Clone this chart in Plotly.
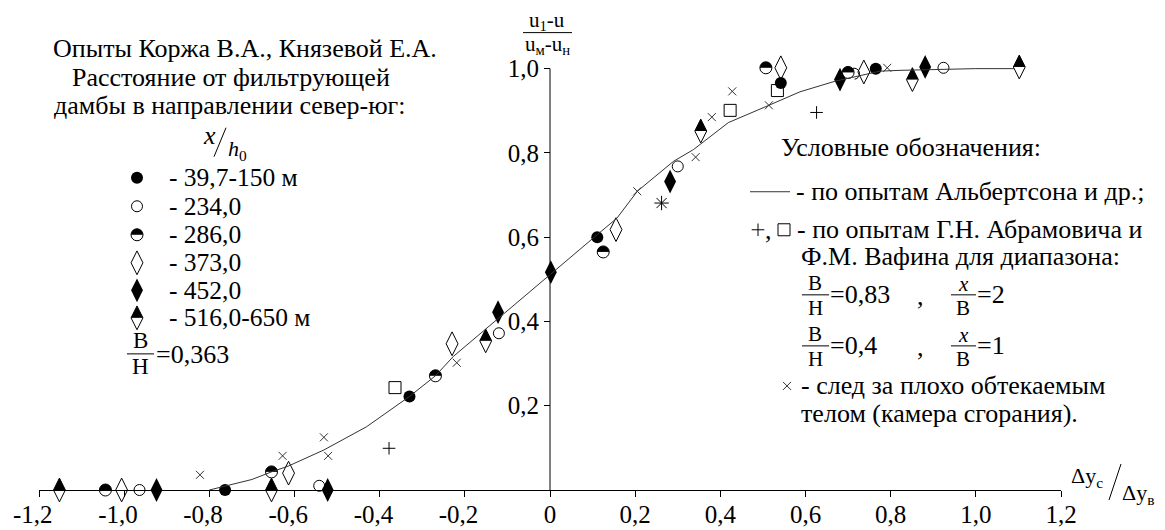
import plotly.graph_objects as go

# ---------------- data ----------------
xtick_vals = [-1.2, -1.0, -0.8, -0.6, -0.4, -0.2, 0.0, 0.2, 0.4, 0.6, 0.8, 1.0, 1.2]
xtick_text = ["-1,2", "-1,0", "-0,8", "-0,6", "-0,4", "-0,2", "0", "0,2", "0,4", "0,6", "0,8", "1,0", "1,2"]
ytick_vals = [0.2, 0.4, 0.6, 0.8, 1.0]
ytick_text = ["0,2", "0,4", "0,6", "0,8", "1,0"]

# Albertson curve
curve_x = [-0.80, -0.76, -0.70, -0.654, -0.614, -0.531, -0.431, -0.33, -0.269, -0.227, -0.117,
           0.0, 0.111, 0.157, 0.205, 0.290, 0.337, 0.419, 0.514, 0.587, 0.669, 0.775, 0.822, 1.0, 1.09]
curve_y = [0.0, 0.010, 0.025, 0.043, 0.057, 0.095, 0.150, 0.222, 0.271, 0.317, 0.412,
           0.511, 0.606, 0.645, 0.709, 0.780, 0.808, 0.872, 0.913, 0.945, 0.970, 0.994, 0.996, 1.0, 1.0]

# Korzh & Knyazeva experiments, x/h0 groups
x_150 = [-0.763, -0.330, 0.111, 0.542, 0.765]
y_150 = [0.0, 0.222, 0.600, 0.966, 1.000]
x_234 = [-0.964, -0.542, -0.120, 0.300, 0.714, 0.924]
y_234 = [0.0, 0.010, 0.372, 0.768, 0.988, 1.002]
x_286 = [-1.044, -0.654, -0.269, 0.125, 0.507, 0.700]
y_286 = [0.0, 0.043, 0.271, 0.565, 1.002, 0.991]
x_373 = [-1.006, -0.614, -0.230, 0.155, 0.542, 0.737]
y_373 = [0.0, 0.040, 0.347, 0.618, 1.002, 0.992]
x_452 = [-0.924, -0.522, -0.122, 0.002, 0.282, 0.681, 0.881]
y_452 = [0.0, 0.0, 0.422, 0.517, 0.732, 0.974, 1.004]
x_516 = [-1.152, -0.654, -0.151, 0.354, 0.851, 1.102]
y_516 = [0.0, 0.0, 0.354, 0.852, 0.974, 1.004]

# Abramovich & Vafin
x_plus = [-0.378, 0.626]
y_plus = [0.099, 0.896]
x_sq = [-0.364, 0.423, 0.534]
y_sq = [0.243, 0.901, 0.948]

# wake behind a bluff body
x_wake = [-0.822, -0.628, -0.531, -0.521, -0.219, 0.205, 0.342, 0.380, 0.428, 0.514, 0.792]
y_wake = [0.036, 0.081, 0.125, 0.081, 0.302, 0.709, 0.790, 0.885, 0.946, 0.913, 1.002]
x_star = [0.262]
y_star = [0.681]

legend_labels = ["- 39,7-150 м", "- 234,0", "- 286,0", "- 373,0", "- 452,0", "- 516,0-650 м"]
legend_kinds = ["circle_filled", "circle_open", "circle_half", "diamond_open", "diamond_filled", "tri_combo"]

# ---------------- layout constants ----------------
FONT = "Times New Roman"
W, H = 1165, 530
UY = 421.0          # pixels per unit of y
Y_TOP = 1.03        # head-room so points at y≈1 stay visible
ML, MR, MB = 39, 104, 40
MT = (H - MB) - UY * Y_TOP
FS_TICK = 25
FS = 26
FS_ROW = 25.5


def px(xp):
    return (xp - ML) / (W - ML - MR)


def py(yp):
    return (H - MB - yp) / (H - MT - MB)


fig = go.Figure()


def add_series(xs, ys, kind, xa="x", ya="y"):
    base = dict(x=xs, y=ys, mode="markers", xaxis=xa, yaxis=ya,
                hoverinfo="skip", showlegend=False, cliponaxis=False)

    def mk(**m):
        fig.add_trace(go.Scatter(**base, marker=m))

    if kind == "circle_filled":
        mk(symbol="circle", size=12, color="black", line=dict(width=0))
    elif kind == "circle_open":
        mk(symbol="circle-open", size=11, color="black", line=dict(width=1, color="black"))
    elif kind == "circle_half":
        mk(symbol="circle", size=12, color="black", line=dict(width=0))
        mk(symbol="square", size=13, color="white", line=dict(width=0), standoff=6.5)
        mk(symbol="circle-open", size=12, color="black", line=dict(width=1, color="black"))
    elif kind == "diamond_open":
        mk(symbol="diamond-tall-open", size=17, color="black", line=dict(width=1, color="black"))
    elif kind == "diamond_filled":
        mk(symbol="diamond-tall", size=17, color="black", line=dict(width=0))
    elif kind == "tri_combo":
        mk(symbol="diamond-tall", size=17, color="black", line=dict(width=0))
        mk(symbol="square", size=13, color="white", line=dict(width=0), standoff=6.5)
        mk(symbol="diamond-tall-open", size=17, color="black", line=dict(width=1, color="black"))
    elif kind == "plus":
        mk(symbol="cross-thin-open", size=9, color="black", line=dict(width=1, color="black"))
    elif kind == "square_open":
        mk(symbol="square-open", size=12, color="black", line=dict(width=1, color="black"))
    elif kind == "x":
        mk(symbol="x-thin-open", size=8, color="#333333", line=dict(width=1, color="#333333"))
    elif kind == "star":
        mk(symbol="asterisk-open", size=12, color="black", line=dict(width=1, color="black"))


# data marks
add_series(x_150, y_150, "circle_filled")
add_series(x_234, y_234, "circle_open")
add_series(x_286, y_286, "circle_half")
add_series(x_373, y_373, "diamond_open")
add_series(x_452, y_452, "diamond_filled")
add_series(x_516, y_516, "tri_combo")
add_series(x_sq, y_sq, "square_open")
add_series(x_plus, y_plus, "plus")
add_series(x_wake, y_wake, "x")
add_series(x_star, y_star, "star")

fig.add_trace(go.Scatter(x=curve_x, y=curve_y, mode="lines", line=dict(color="#333333", width=1),
                         hoverinfo="skip", showlegend=False, cliponaxis=False))

# legend symbols on an invisible pixel-unit overlay
leg_rows = [178, 206.5, 235, 263, 290.5, 318]
for kind, yr in zip(legend_kinds, leg_rows):
    add_series([137], [yr], kind, "x2", "y2")
add_series([758], [230], "plus", "x2", "y2")
add_series([784], [230], "square_open", "x2", "y2")
add_series([787], [386], "x", "x2", "y2")

annotations = []
shapes = []


def txt(x, y, s, size=FS, anchor="left"):
    annotations.append(dict(x=px(x), y=py(y), xref="paper", yref="paper", text=s, showarrow=False,
                            xanchor=anchor, yanchor="middle", borderpad=0,
                            font=dict(family=FONT, size=size, color="black")))


def seg(x0, y0, x1, y1, color="black", width=1):
    shapes.append(dict(type="line", xref="paper", yref="paper", x0=px(x0), y0=py(y0), x1=px(x1), y1=py(y1),
                       line=dict(color=color, width=width)))


# y axis line from 0 to 1 only (axis range has head-room above 1)
shapes.append(dict(type="line", xref="x", yref="y", x0=0, x1=0, y0=0, y1=1.0,
                   line=dict(color="black", width=1)))

# left legend
txt(52, 49, "Опыты Коржа В.А., Князевой Е.А.")
txt(71, 77.5, "Расстояние от фильтрующей")
txt(53, 106, "дамбы в направлении север-юг:")
txt(209, 136, "<i>x</i>", anchor="center")
seg(214, 157, 226, 128)
txt(227, 150, "<i>h</i><sub>0</sub>", size=22)
for lab, yr in zip(legend_labels, leg_rows):
    txt(168, yr, lab, size=FS_ROW)
txt(140, 341, "B", size=23, anchor="center")
seg(127, 354, 154, 354)
txt(140, 367, "H", size=23, anchor="center")
txt(155, 355, "=0,363")

# right legend
txt(780, 148, "Условные обозначения:")
seg(750, 192, 790, 192, color="#333333")
txt(795, 192, "- по опытам Альбертсона и др.;")
txt(768, 231, ",", anchor="center")
txt(796, 230, "- по опытам Г.Н. Абрамовича и")
txt(800, 257, "Ф.М. Вафина для диапазона:")
for yb, val, xv in [(295, "=0,83", "=2"), (346, "=0,4", "=1")]:
    txt(815, yb - 12, "B", size=21, anchor="center")
    seg(802, yb, 829, yb)
    txt(815, yb + 13, "H", size=21, anchor="center")
    txt(829, yb, val)
    txt(920, yb + 2, ",", anchor="center")
    txt(963, yb - 11, "<i>x</i>", size=21, anchor="center")
    seg(951, yb, 976, yb)
    txt(963, yb + 13, "B", size=21, anchor="center")
    txt(976, yb, xv)
txt(800, 386, "- след за плохо обтекаемым")
txt(800, 414, "телом (камера сгорания).")

# axis titles
txt(547, 21, "u<sub>1</sub>-u", size=21, anchor="center")
seg(523, 33, 572, 33)
txt(547, 45, "u<sub>м</sub>-u<sub>н</sub>", size=21, anchor="center")
txt(1087, 477, "Δy<sub>c</sub>", size=22, anchor="center")
seg(1109, 500, 1121, 464)
txt(1138, 494, "Δy<sub>в</sub>", size=22, anchor="center")

xt_text = [t + "\u2002" if t.startswith("-") else t for t in xtick_text]

fig.update_layout(
    width=W, height=H, autosize=False,
    margin=dict(l=ML, r=MR, t=MT, b=MB, pad=0, autoexpand=False),
    paper_bgcolor="white", plot_bgcolor="white",
    showlegend=False,
    font=dict(family=FONT, size=FS, color="black"),
    xaxis=dict(range=[-1.2, 1.2], showline=True, linecolor="black", linewidth=1, mirror=False,
               ticks="outside", ticklen=6, tickwidth=1, tickcolor="black", ticklabelstandoff=-4,
               tickvals=xtick_vals, ticktext=xt_text, showgrid=False, zeroline=False, automargin=False,
               tickfont=dict(family=FONT, size=FS_TICK, color="black"), fixedrange=True),
    yaxis=dict(range=[0, Y_TOP], anchor="free", position=0.5, showline=False,
               ticks="outside", ticklen=6, tickwidth=1, tickcolor="black", automargin=False,
               tickvals=ytick_vals, ticktext=ytick_text, showgrid=False, zeroline=False,
               tickfont=dict(family=FONT, size=FS_TICK, color="black"), fixedrange=True),
    xaxis2=dict(range=[ML, W - MR], overlaying="x", anchor="y2", visible=False, fixedrange=True),
    yaxis2=dict(range=[H - MB, MT], overlaying="y", anchor="x2", visible=False, fixedrange=True),
    annotations=annotations,
    shapes=shapes,
)

fig.write_html("out.html")
